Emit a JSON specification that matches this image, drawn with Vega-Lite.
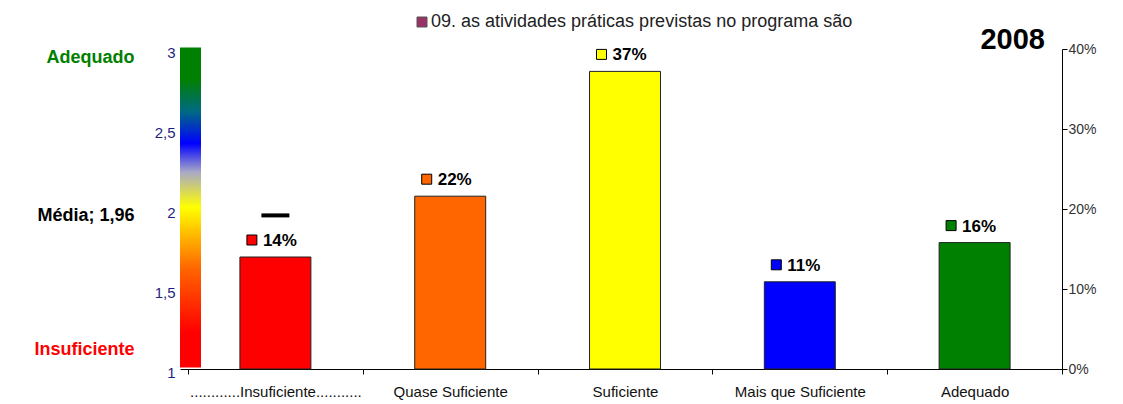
{
  "$schema": "https://vega.github.io/schema/vega-lite/v6.json",
  "width": 882,
  "height": 320,
  "autosize": {"type": "none"},
  "padding": {"left": 180, "top": 49, "right": 61, "bottom": 35},
  "background": "white",
  "config": {
    "view": {"stroke": null},
    "font": "Liberation Sans",
    "axis": {"grid": false}
  },
  "title": {
    "text": "2008",
    "anchor": "end",
    "frame": "group",
    "fontSize": 29,
    "fontWeight": "bold",
    "color": "black",
    "baseline": "alphabetic",
    "offset": -65,
    "dx": -17
  },
  "layer": [
    {
      "data": {"values": [{"lo": 1.01, "hi": 3.01}]},
      "mark": {
        "type": "rect",
        "color": {
          "gradient": "linear",
          "x1": 0, "y1": 0, "x2": 0, "y2": 1,
          "stops": [
            {"offset": 0, "color": "#008000"},
            {"offset": 0.1, "color": "#008000"},
            {"offset": 0.2, "color": "#006a82"},
            {"offset": 0.3, "color": "#0000ff"},
            {"offset": 0.39, "color": "#a9a9c6"},
            {"offset": 0.5, "color": "#ffff00"},
            {"offset": 0.69, "color": "#ff6600"},
            {"offset": 0.89, "color": "#ff0000"},
            {"offset": 1, "color": "#ff0000"}
          ]
        }
      },
      "encoding": {
        "x": {"datum": 0, "type": "quantitative", "scale": {"domain": [0, 42]}, "axis": null},
        "x2": {"datum": 1},
        "y": {
          "field": "lo", "type": "quantitative", "title": null,
          "scale": {"domain": [1, 3], "nice": false, "zero": false},
          "axis": {
            "orient": "left",
            "values": [1, 1.5, 2, 2.5, 3],
            "format": "~g",
            "labelExpr": "replace(datum.label, '.', ',')",
            "ticks": false,
            "domain": false,
            "labelPadding": 5,
            "labelOffset": 3,
            "labelFontSize": 15,
            "labelColor": "#1f1f80"
          }
        },
        "y2": {"field": "hi"}
      }
    },
    {
      "data": {
        "values": [
          {"cat": "Insuficiente", "pct": 0.14},
          {"cat": "Quase Suficiente", "pct": 0.216},
          {"cat": "Suficiente", "pct": 0.372},
          {"cat": "Mais que Suficiente", "pct": 0.109},
          {"cat": "Adequado", "pct": 0.158}
        ]
      },
      "layer": [
        {
          "layer": [
            {
              "mark": {"type": "bar", "stroke": "#222", "strokeWidth": 1, "width": {"band": 0.406}},
              "encoding": {
                "x": {
                  "field": "cat", "type": "nominal", "sort": null, "title": null,
                  "scale": {"paddingInner": 0, "paddingOuter": 0.0229, "align": 1},
                  "axis": {
                    "orient": "bottom",
                    "tickBand": "extent",
                    "labelAngle": 0,
                    "labelExpr": "datum.label == 'Insuficiente' ? '............Insuficiente...........' : datum.label",
                    "labelFontSize": 15,
                    "labelColor": "#111",
                    "labelPadding": 10,
                    "tickSize": 5,
                    "tickColor": "black",
                    "domainColor": "black",
                    "labelLimit": 0
                  }
                },
                "y": {
                  "field": "pct", "type": "quantitative", "title": null,
                  "scale": {"domain": [0, 0.4], "nice": false},
                  "axis": {
                    "orient": "right",
                    "values": [0, 0.05, 0.1, 0.15, 0.2, 0.25, 0.3, 0.35, 0.4],
                    "format": ".0%",
                    "tickSize": 5,
                    "tickColor": "black",
                    "domainColor": "black",
                    "labelPadding": 1,
                    "labelFontSize": 14,
                    "labelColor": "#333"
                  }
                },
                "color": {
                  "field": "cat", "type": "nominal", "legend": null,
                  "scale": {
                    "domain": ["Insuficiente", "Quase Suficiente", "Suficiente", "Mais que Suficiente", "Adequado"],
                    "range": ["#ff0000", "#ff6600", "#ffff00", "#0000ff", "#008000"]
                  }
                }
              }
            },
            {
              "mark": {"type": "point", "shape": "square", "filled": true, "size": 100, "stroke": "black", "strokeWidth": 1, "opacity": 1, "xOffset": -23.5, "yOffset": -17},
              "encoding": {
                "x": {"field": "cat", "type": "nominal", "sort": null, "title": null},
                "y": {"field": "pct", "type": "quantitative", "title": null},
                "color": {"field": "cat", "type": "nominal", "legend": null}
              }
            },
            {
              "mark": {"type": "text", "align": "left", "baseline": "alphabetic", "dx": -12.5, "dy": -11, "fontSize": 17, "fontWeight": "bold", "color": "black"},
              "encoding": {
                "x": {"field": "cat", "type": "nominal", "sort": null, "title": null},
                "y": {"field": "pct", "type": "quantitative", "title": null},
                "text": {"field": "pct", "type": "quantitative", "format": ".0%"}
              }
            }
          ]
        },
        {
          "data": {"values": [{"cat": "Insuficiente", "media": 1.96}]},
          "mark": {"type": "tick", "color": "black", "opacity": 1, "thickness": 4, "size": 28},
          "encoding": {
            "x": {"field": "cat", "type": "nominal", "sort": null, "title": null},
            "y": {
              "field": "media", "type": "quantitative", "title": null,
              "scale": {"domain": [1, 3], "nice": false, "zero": false},
              "axis": {
                "orient": "left",
                "offset": 46,
                "values": [1.12, 1.96, 2.944],
                "labelExpr": "datum.value > 2.5 ? 'Adequado' : datum.value > 1.5 ? 'Média; 1,96' : 'Insuficiente'",
                "labelFontSize": 18,
                "labelFontWeight": "bold",
                "labelColor": {
                  "condition": [
                    {"test": "datum.value > 2.5", "value": "#008000"},
                    {"test": "datum.value < 1.5", "value": "#ff0000"}
                  ],
                  "value": "black"
                },
                "ticks": false,
                "domain": false,
                "labelPadding": 0,
                "labelLimit": 0
              }
            }
          }
        }
      ],
      "resolve": {"scale": {"y": "independent"}}
    },
    {
      "data": {"values": [{"serie": "09. as atividades práticas previstas no programa são"}]},
      "mark": {"type": "point", "shape": "square", "filled": true, "opacity": 0},
      "encoding": {
        "color": {
          "field": "serie", "type": "nominal",
          "scale": {"range": ["#993366"]},
          "legend": {
            "orient": "none",
            "legendX": 233,
            "legendY": -36,
            "title": null,
            "padding": 0,
            "symbolType": "square",
            "symbolSize": 100,
            "symbolOpacity": 1,
            "symbolStrokeColor": "#555",
            "symbolStrokeWidth": 1,
            "labelFontSize": 18,
            "labelColor": "#222",
            "labelLimit": 0,
            "labelOffset": 0
          }
        }
      }
    }
  ],
  "resolve": {"scale": {"x": "independent", "y": "independent", "color": "independent"}}
}
